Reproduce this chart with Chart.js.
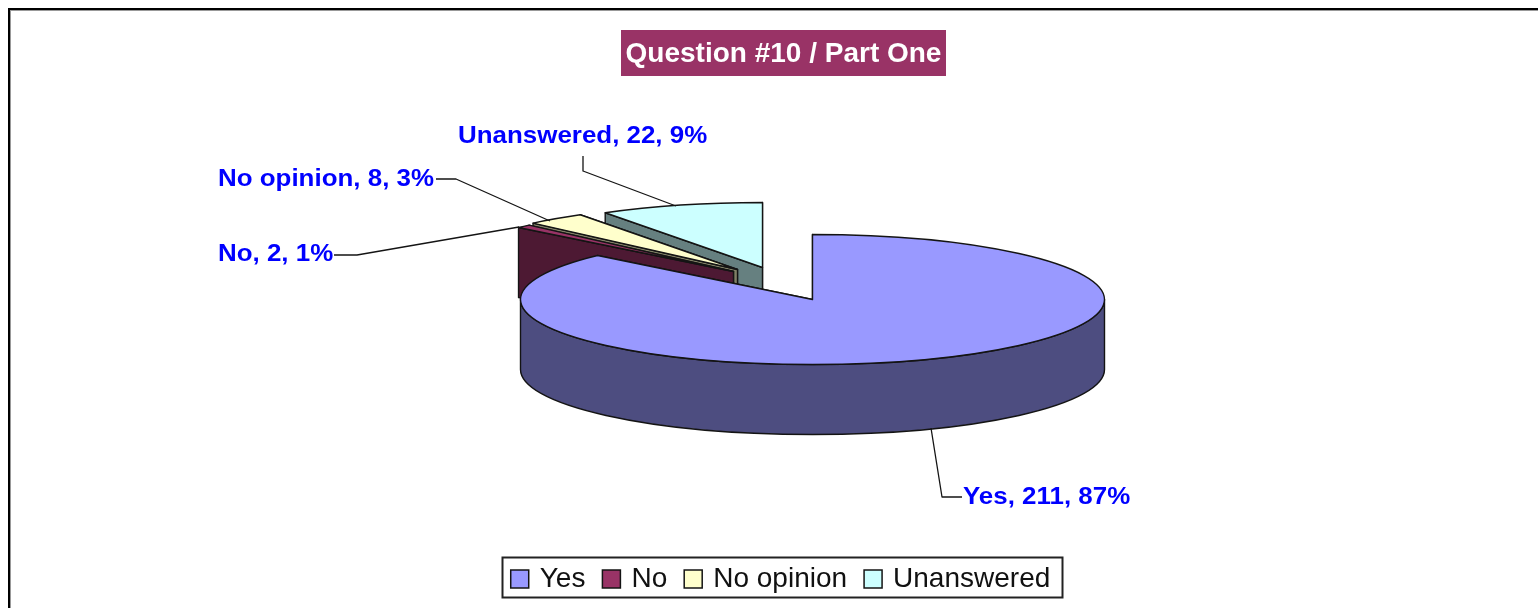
<!DOCTYPE html>
<html>
<head>
<meta charset="utf-8">
<style>
html,body{margin:0;padding:0;background:#fff;overflow:hidden}
canvas{display:block;filter:blur(0.4px)}
</style>
<script src="https://cdn.jsdelivr.net/npm/chart.js@4"></script>
</head>
<body>
<canvas id="c" width="1538" height="608"></canvas>
<script>
const categories = ["Yes", "No", "No opinion", "Unanswered"];
const values = [211, 2, 8, 22];
const sliceColors = ["#9999FF", "#993366", "#FFFFCC", "#CCFFFF"];
const wallColors = ["#4D4D80", "#4D1933", "#808066", "#668080"];
const chartTitle = "Question #10 / Part One";

// explode vector of each slice on the page, in pixels
const explodeX = [0, -79, -75, -50];
const explodeY = [0, -28, -30, -32];

// label anchors and leader lines (annotation layout)
const labelAnchors = [
  {x: 963, y: 497, line: [[962,497],[942,497],[931,428]]},
  {x: 218, y: 254, line: [[334,255],[357,255],[519,227]]},
  {x: 218, y: 179, line: [[436,179],[456,179],[550,221]]},
  {x: 458, y: 136, line: [[583,156],[583,171],[676,206]]}
];

const CX = 812.5, CY = 299.5, RX = 292, RY = 65, DEPTH = 70;
const INK = "#141414";
const total = values.reduce((a, b) => a + b, 0);

const pie3d = {
  id: "pie3d",
  afterLayout(chart) {
    const size = 300;
    chart.chartArea.left = CX - size; chart.chartArea.right = CX + size;
    chart.chartArea.top = CY - size; chart.chartArea.bottom = CY + size;
    chart.chartArea.width = size * 2; chart.chartArea.height = size * 2;
    chart.titleBlock.left += 14.5; chart.titleBlock.right += 14.5;
    const lg = chart.legend, h = lg.bottom - lg.top;
    lg.left += 13; lg.right += 13; lg.top = 545; lg.bottom = 545 + h;
  },
  beforeDraw(chart) {
    const c = chart.ctx;
    c.save();
    c.fillStyle = "#fff"; c.fillRect(0, 0, chart.width, chart.height);
    // outer frame
    c.fillStyle = "#000";
    c.fillRect(8, 8, chart.width - 8, 2);
    c.fillRect(8, 8, 2, chart.height - 8);
    c.fillStyle = "#999";
    c.fillRect(10, 10, chart.width - 10, 1);
    c.fillRect(10, 10, 1, chart.height - 10);
    // title plate
    c.fillStyle = "#993366";
    c.fillRect(621, 30, 325, 46);
    // legend frame
    c.strokeStyle = "#222"; c.lineWidth = 2;
    c.strokeRect(502.5, 557.5, 560, 40);
    c.restore();
  },
  beforeDatasetDraw() { return false; },
  afterDatasetsDraw(chart) {
    const c = chart.ctx;
    const arcs = chart.getDatasetMeta(0).data;
    const order = [3, 2, 1, 0];
    c.save();
    c.lineJoin = "round";
    c.lineWidth = 1.4;
    c.strokeStyle = INK;
    order.forEach(i => {
      const a = arcs[i];
      const x0 = a.x + explodeX[i];
      const y0 = a.y + explodeY[i];
      const rx = a.outerRadius, ry = rx * RY / RX;
      const sa = a.startAngle, ea = a.endAngle;
      const pt = t => [x0 + rx * Math.cos(t), y0 + ry * Math.sin(t)];
      const face = t => {
        const p = pt(t);
        c.beginPath();
        c.moveTo(x0, y0); c.lineTo(p[0], p[1]);
        c.lineTo(p[0], p[1] + DEPTH); c.lineTo(x0, y0 + DEPTH);
        c.closePath();
        c.fillStyle = wallColors[i];
        c.fill(); c.stroke();
      };
      face(ea); face(sa);
      // front curved wall: only the part facing the viewer
      const lo = Math.max(sa, 0), hi = Math.min(ea, Math.PI);
      if (hi > lo) {
        c.beginPath();
        c.ellipse(x0, y0, rx, ry, 0, lo, hi);
        c.ellipse(x0, y0 + DEPTH, rx, ry, 0, hi, lo, true);
        c.closePath();
        c.fillStyle = wallColors[i];
        c.fill(); c.stroke();
      }
      // top surface
      c.beginPath();
      c.moveTo(x0, y0);
      c.ellipse(x0, y0, rx, ry, 0, sa, ea);
      c.closePath();
      c.fillStyle = sliceColors[i];
      c.fill(); c.stroke();
    });
    // leader lines
    c.lineWidth = 1.3;
    labelAnchors.forEach(l => {
      c.beginPath();
      l.line.forEach((p, k) => k ? c.lineTo(p[0], p[1]) : c.moveTo(p[0], p[1]));
      c.stroke();
    });
    // data labels (the reference's text is slightly wider than tall)
    c.fillStyle = "#0000FF";
    c.font = 'bold 24px "Liberation Sans", Arial, sans-serif';
    c.textAlign = "left"; c.textBaseline = "middle";
    categories.forEach((name, i) => {
      const pct = Math.round(values[i] / total * 100);
      c.save();
      c.translate(labelAnchors[i].x, labelAnchors[i].y);
      c.scale(1.08, 1);
      c.fillText(name + ", " + values[i] + ", " + pct + "%", 0, 0);
      c.restore();
    });
    c.restore();
  }
};

new Chart(document.getElementById("c"), {
  type: "pie",
  data: {
    labels: categories,
    datasets: [{
      data: values,
      backgroundColor: sliceColors,
      borderColor: "#141414",
      borderWidth: 1.5
    }]
  },
  plugins: [pie3d],
  options: {
    responsive: false,
    animation: false,
    devicePixelRatio: 1,
    radius: RX,
    layout: {padding: 0},
    plugins: {
      tooltip: {enabled: false},
      title: {
        display: true,
        text: chartTitle,
        color: "#FFFFFF",
        padding: {top: 37, bottom: 4},
        font: {family: '"Liberation Sans", Arial, sans-serif', size: 28, weight: "bold", lineHeight: 1.2}
      },
      legend: {
        display: true,
        position: "bottom",
        labels: {
          usePointStyle: true,
          pointStyle: "rect",
          boxWidth: 12,
          boxHeight: 18,
          padding: 20,
          color: "#111111",
          font: {family: '"Liberation Sans", Arial, sans-serif', size: 28}
        }
      }
    }
  }
});
</script>
</body>
</html>
